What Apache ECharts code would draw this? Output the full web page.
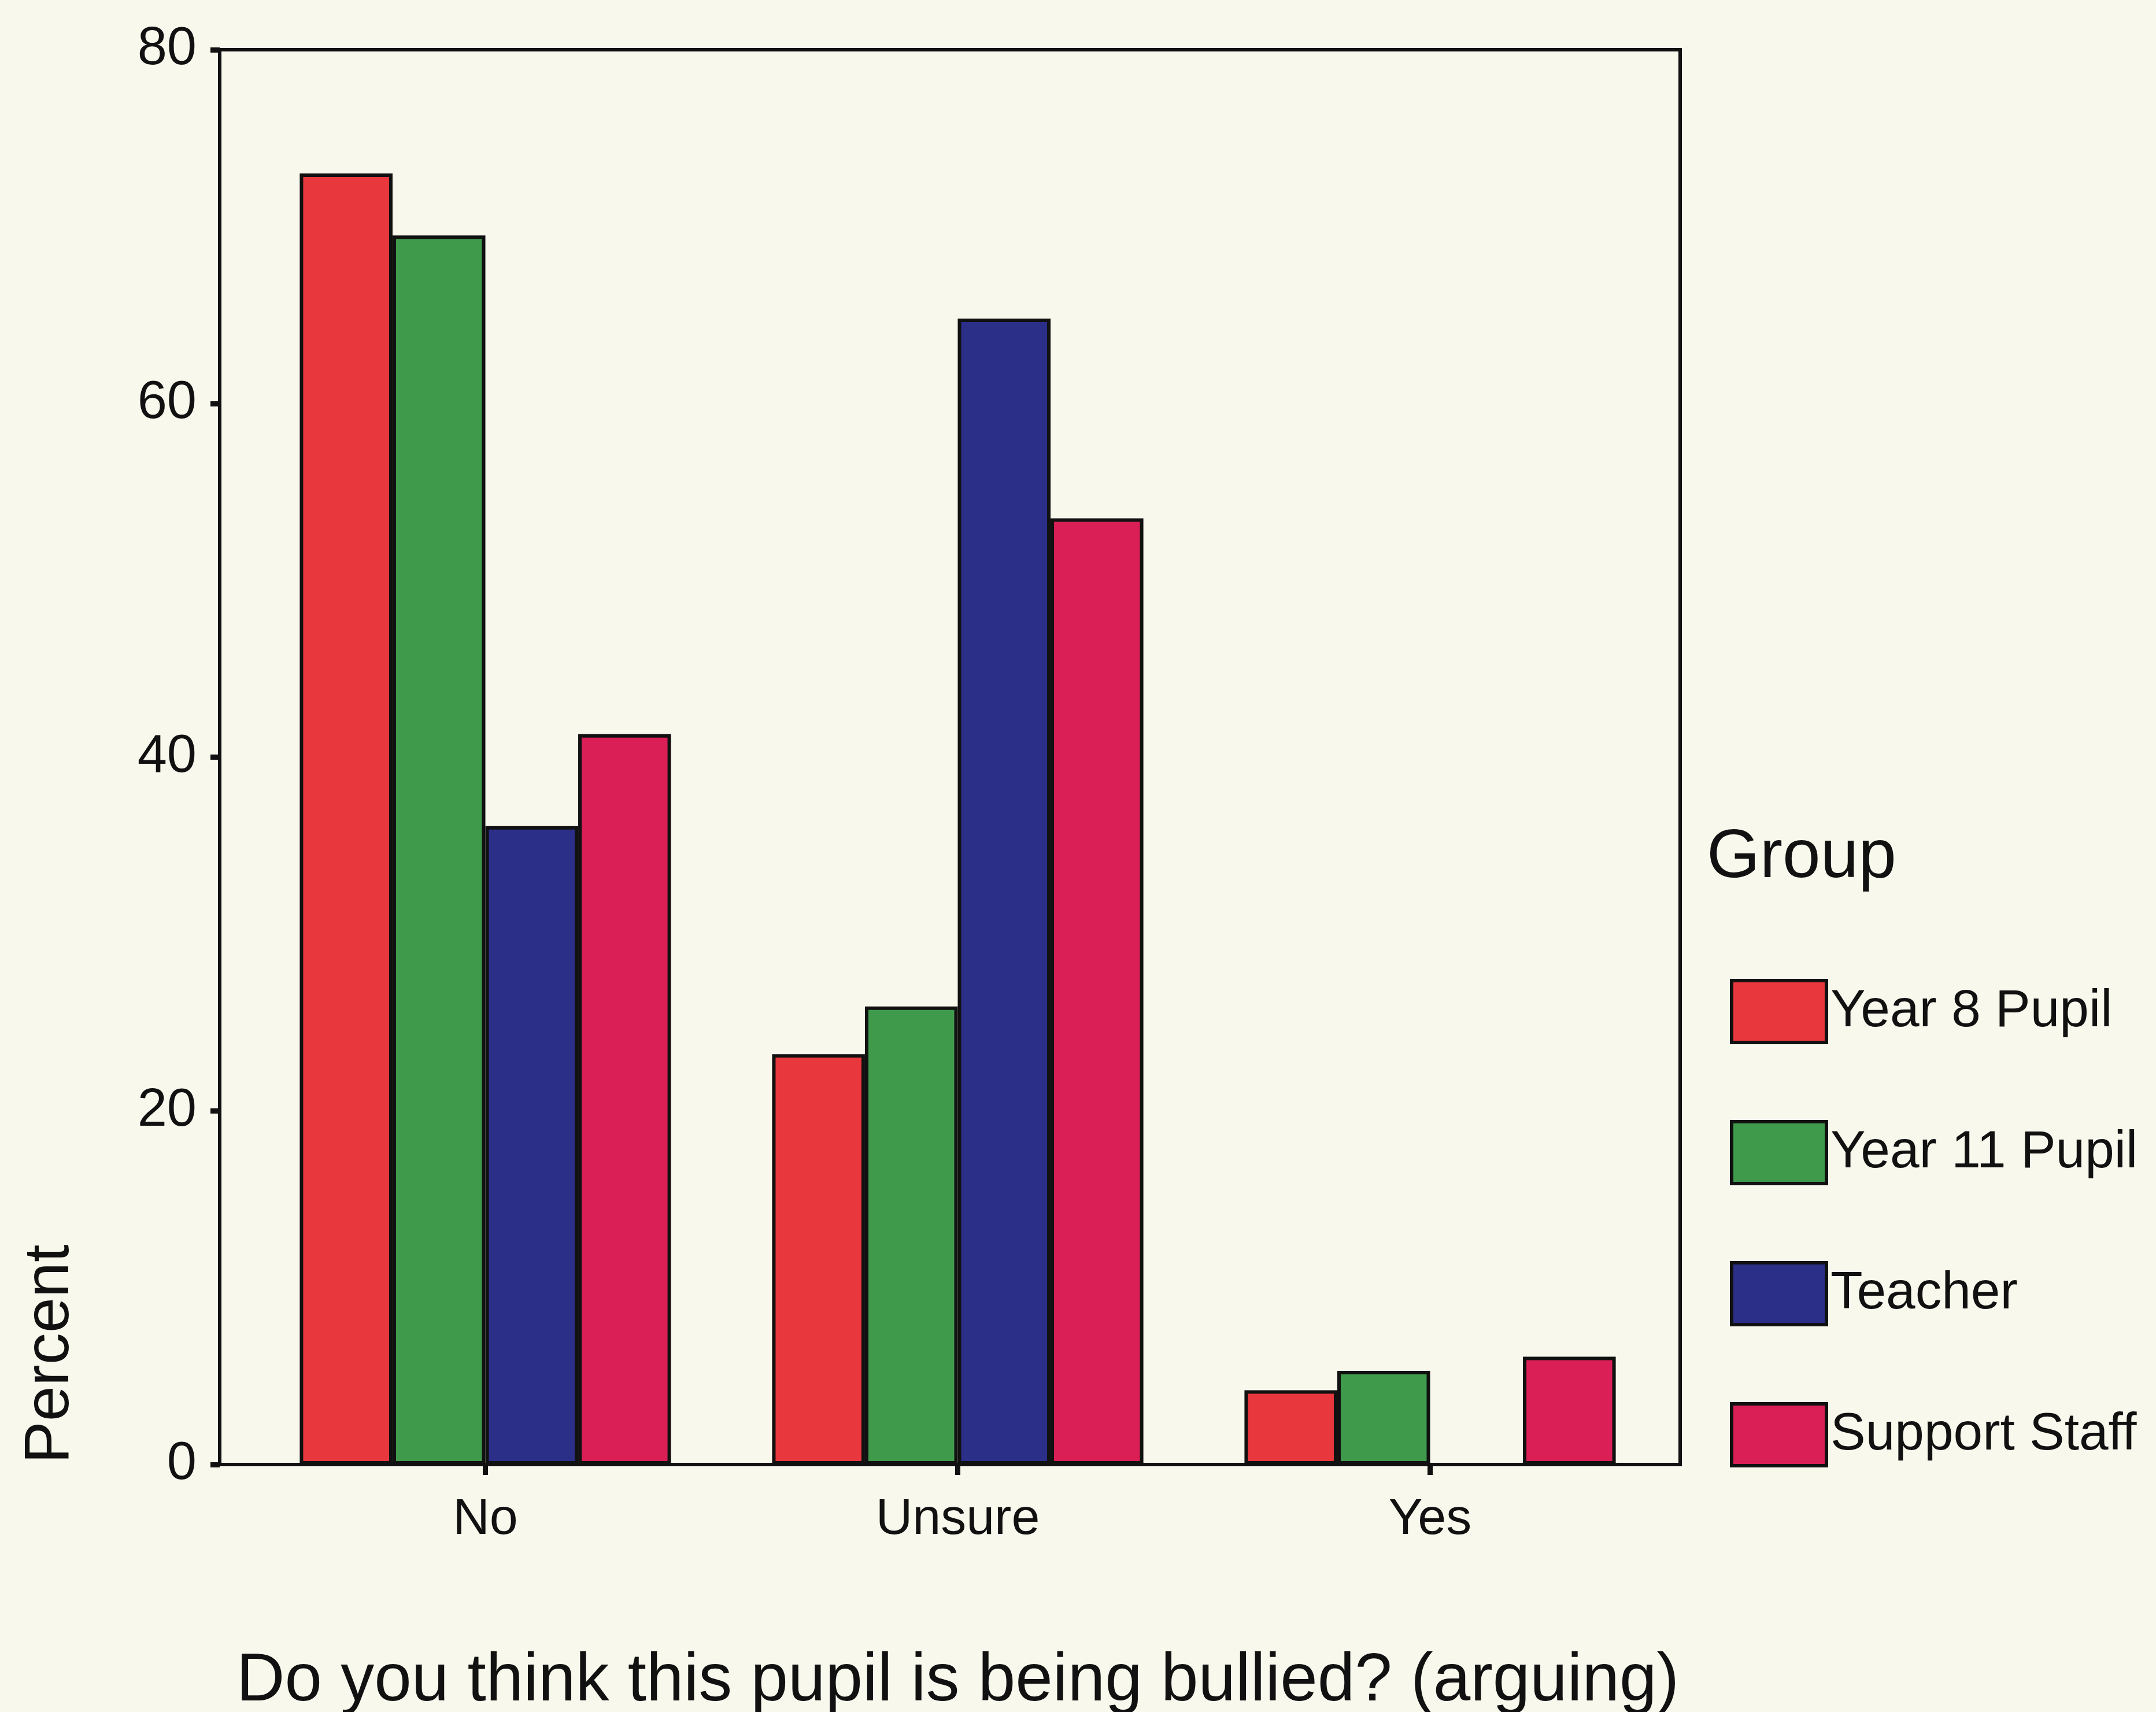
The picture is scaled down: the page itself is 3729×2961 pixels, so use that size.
<!DOCTYPE html>
<html>
<head>
<meta charset="utf-8">
<script src="https://cdn.jsdelivr.net/npm/echarts@6/dist/echarts.min.js"></script>
<style>
html,body{margin:0;padding:0;background:#F8F8ED;}
#chart{width:3729px;height:2961px;}
</style>
</head>
<body>
<div id="chart"></div>
<script>
var categories = ['No', 'Unsure', 'Yes'];
var groupNames = ['Year 8 Pupil', 'Year 11 Pupil', 'Teacher', 'Support Staff'];
var year8 = [73.0, 23.2, 4.2];
var year11 = [69.5, 25.9, 5.3];
var teacher = [36.1, 64.8, 0];
var supportStaff = [41.3, 53.5, 6.1];
var yTicks = [0, 20, 40, 60, 80];
var xTitle = 'Do you think this pupil is being bullied? (arguing)';
var yTitle = 'Percent';
var legendTitle = 'Group';

var colors = ['#E8383D', '#3F9A4B', '#2B2F88', '#D91F56'];
var FONT = 'Arial, "Liberation Sans", sans-serif';
var seriesValues = [year8, year11, teacher, supportStaff];
var yMin = yTicks[0], yMax = yTicks[yTicks.length - 1], yStep = yTicks[1] - yTicks[0];

var chart = echarts.init(document.getElementById('chart'), null, {renderer: 'canvas'});
var option = {
  backgroundColor: '#F8F8ED',
  animation: false,
  textStyle: {fontFamily: FONT, color: '#111'},
  title: {
    text: legendTitle,
    left: 2952,
    top: 1425,
    padding: 0,
    textStyle: {fontFamily: FONT, fontSize: 118, fontWeight: 'normal', color: '#111'}
  },
  legend: {
    orient: 'vertical',
    left: 2992,
    top: 1693,
    padding: 0,
    itemWidth: 164,
    itemHeight: 107,
    itemGap: 131,
    icon: 'rect',
    data: groupNames,
    itemStyle: {borderColor: '#111', borderWidth: 6},
    textStyle: {fontFamily: FONT, fontSize: 91, color: '#111', padding: [0, 0, 0, 2]}
  },
  grid: [
    {   // frame grid (axis box)
      left: 380, right: 823, top: 86, bottom: 428,
      outerBoundsMode: 'none', containLabel: false,
      show: true, borderColor: '#111', borderWidth: 6, backgroundColor: 'transparent'
    },
    {   // data grid (category bands)
      left: 431, right: 847, top: 86, bottom: 428,
      outerBoundsMode: 'none', containLabel: false,
      show: false
    }
  ],
  graphic: [{
    type: 'text',
    x: 88,
    y: 2342,
    rotation: Math.PI / 2,
    style: {
      text: yTitle,
      fontFamily: FONT,
      fontSize: 110,
      fill: '#111',
      textAlign: 'center',
      textVerticalAlign: 'middle'
    }
  }],
  xAxis: [
    {
      gridIndex: 0, type: 'value', min: 0, max: 1, show: false
    },
    {
      gridIndex: 1,
      type: 'category',
      data: categories,
      name: xTitle,
      nameLocation: 'middle',
      nameGap: 318,
      nameTextStyle: {fontFamily: FONT, fontSize: 116, color: '#111'},
      axisLine: {show: false},
      axisTick: {show: true, alignWithLabel: true, length: 18, lineStyle: {color: '#111', width: 9}},
      axisLabel: {fontFamily: FONT, fontSize: 88, color: '#111', margin: 52},
      splitLine: {show: false}
    }
  ],
  yAxis: [
    {
      gridIndex: 0,
      type: 'value',
      min: yMin, max: yMax, interval: yStep,
      axisLine: {show: true, lineStyle: {color: '#111', width: 6}},
      axisTick: {show: true, length: 16, lineStyle: {color: '#111', width: 9}},
      axisLabel: {fontFamily: FONT, fontSize: 92, color: '#111', margin: 40},
      splitLine: {show: false}
    },
    {
      gridIndex: 1,
      type: 'value',
      min: yMin, max: yMax, interval: yStep,
      show: false
    }
  ],
  series: groupNames.map(function (name, i) {
    return {
      name: name,
      type: 'bar',
      xAxisIndex: 1,
      yAxisIndex: 1,
      data: seriesValues[i],
      barGap: '0%',
      barCategoryGap: '21.4%',
      itemStyle: {color: colors[i], borderColor: '#111', borderWidth: 6}
    };
  })
};
chart.setOption(option);
</script>
</body>
</html>
